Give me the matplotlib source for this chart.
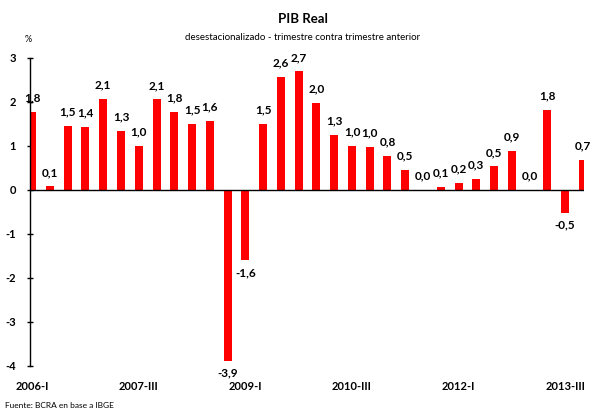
import numpy as np
import matplotlib.pyplot as plt

plt.rcParams['font.family'] = ['Lato', 'DejaVu Sans']

# PIB real, variacion trimestral desestacionalizada (%)
quarters = ['2006-I', '2006-II', '2006-III', '2006-IV',
            '2007-I', '2007-II', '2007-III', '2007-IV',
            '2008-I', '2008-II', '2008-III', '2008-IV',
            '2009-I', '2009-II', '2009-III', '2009-IV',
            '2010-I', '2010-II', '2010-III', '2010-IV',
            '2011-I', '2011-II', '2011-III', '2011-IV',
            '2012-I', '2012-II', '2012-III', '2012-IV',
            '2013-I', '2013-II', '2013-III', '2013-IV']
values = [1.77, 0.08, 1.46, 1.43, 2.07, 1.34, 1.00, 2.06,
          1.77, 1.50, 1.57, -3.88, -1.59, 1.50, 2.57, 2.70,
          1.98, 1.26, 1.00, 0.98, 0.77, 0.46, 0.01, 0.07,
          0.16, 0.26, 0.54, 0.89, 0.00, 1.82, -0.52, 0.68]
labels = ['1,8', '0,1', '1,5', '1,4', '2,1', '1,3', '1,0', '2,1',
          '1,8', '1,5', '1,6', '-3,9', '-1,6', '1,5', '2,6', '2,7',
          '2,0', '1,3', '1,0', '1,0', '0,8', '0,5', '0,0', '0,1',
          '0,2', '0,3', '0,5', '0,9', '0,0', '1,8', '-0,5', '0,7']
tick_idx = [0, 6, 12, 18, 24, 30]

fig = plt.figure(figsize=(5.92, 4.08), dpi=100)
ax = fig.add_axes([30/592, 1 - 366/408, 554/592, 308/408])

x = np.arange(len(values))
ax.bar(x, values, width=0.45, color='#ff0000', zorder=2)
ax.axhline(0, color='black', lw=1, zorder=3)

for xi, v, lab in zip(x, values, labels):
    if v >= 0:
        ax.annotate(lab, (xi, v), xytext=(0, 6), textcoords='offset points',
                    ha='center', va='bottom', fontsize=8.5, fontweight='bold')
    else:
        ax.annotate(lab, (xi, v), xytext=(0, -5), textcoords='offset points',
                    ha='center', va='top', fontsize=8.5, fontweight='bold')

ax.set_xlim(-0.12, 31.06)
ax.set_ylim(-4, 3)
ax.set_yticks(range(-4, 4))
ax.set_yticklabels([str(t) for t in range(-4, 4)], fontweight='bold', fontsize=8)
ax.set_xticks(tick_idx)
ax.set_xticklabels([quarters[i] for i in tick_idx], fontweight='bold', fontsize=8)
ax.tick_params(axis='x', length=0, pad=11)
ax.tick_params(axis='y', direction='inout', length=4, width=1, pad=8)

for s in ['top', 'right', 'bottom']:
    ax.spines[s].set_visible(False)
ax.spines['left'].set_linewidth(1)

fig.text(303/592, 1 - 19/408, 'PIB Real', ha='center', va='center',
         fontsize=9.5, fontweight='bold')
fig.text(303/592, 1 - 37/408, 'desestacionalizado - trimestre contra trimestre anterior',
         ha='center', va='center', fontsize=7)
fig.text(28/592, 1 - 40/408, '%', ha='center', va='center', fontsize=6.5)
fig.text(5/592, 1 - 405/408, 'Fuente: BCRA en base a IBGE', ha='left', va='center',
         fontsize=6)

fig.savefig('out.png', dpi=100)
